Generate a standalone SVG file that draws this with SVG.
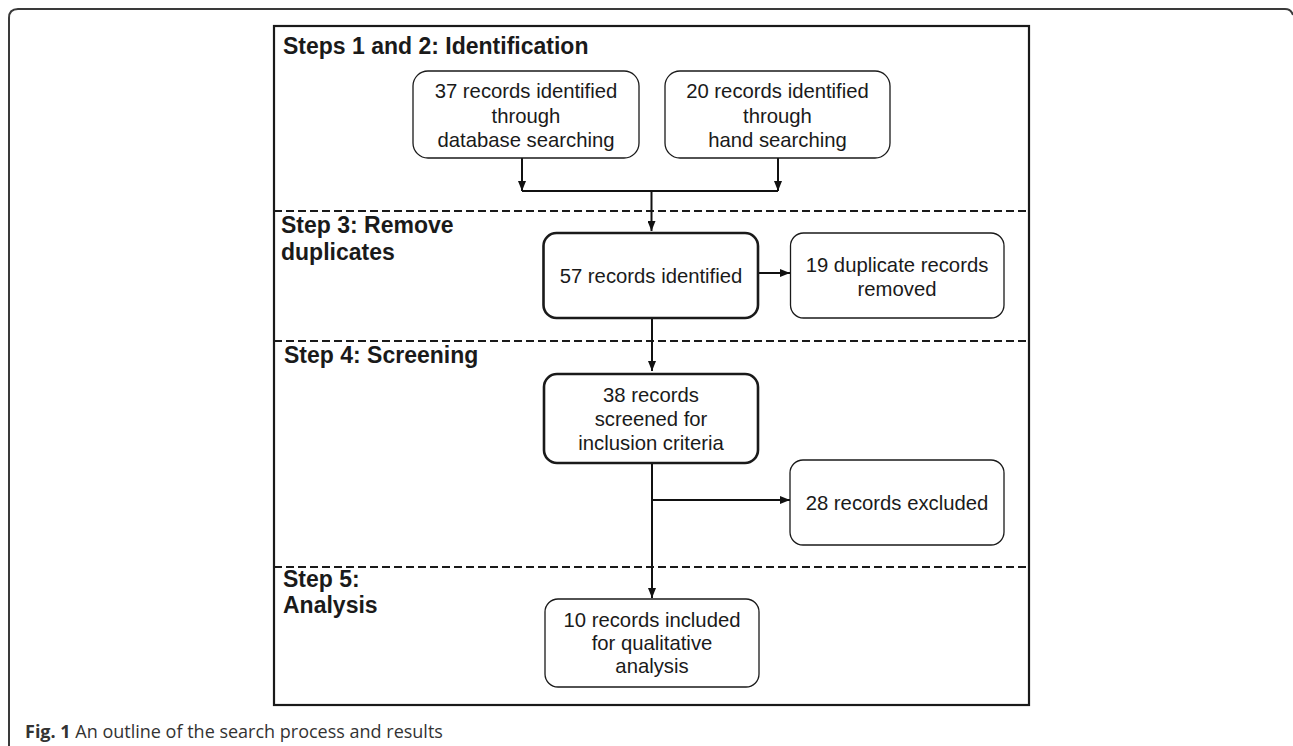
<svg xmlns="http://www.w3.org/2000/svg" width="1293" height="746" viewBox="0 0 1293 746">
<defs>
<marker id="ah" markerWidth="10" markerHeight="8" refX="10" refY="4" orient="auto" markerUnits="userSpaceOnUse"><path d="M0,0 L10,4 L0,8 z" fill="#111"/></marker>
</defs>
<style>
.frame{fill:none;stroke:#3a3a3a;stroke-width:2}
.panel{fill:none;stroke:#1a1a1a;stroke-width:2.2}
.sep{stroke:#1a1a1a;stroke-width:2;stroke-dasharray:8 4}
.box{fill:#fff;stroke:#1a1a1a;stroke-width:1.3}
.thick{stroke-width:2.6}
.conn{fill:none;stroke:#111;stroke-width:2}
.lbl{font-family:"Liberation Sans",Arial,Helvetica,sans-serif;font-size:20.3px;fill:#1a1a1a;text-anchor:middle}
.step{font-family:"Liberation Sans",Arial,Helvetica,sans-serif;font-size:23px;font-weight:bold;fill:#1a1a1a}
.cap{font-family:"Open Sans",sans-serif;font-size:18px;fill:#333}
</style>
<rect width="1293" height="746" fill="#fff"/>
<path class="frame" d="M9,746 V18 Q9,9 18,9 H1285 Q1291,9 1293,15"/>
<g id="panel">
<rect class="panel" x="274" y="26" width="755" height="679"/>
<line class="sep" x1="274" y1="211" x2="1029" y2="211"/>
<line class="sep" x1="274" y1="341" x2="1029" y2="341"/>
<line class="sep" x1="274" y1="567" x2="1029" y2="567"/>
<text class="step" x="283" y="54">Steps 1 and 2: Identification</text>
<text class="step" x="281" y="233">Step 3: Remove</text>
<text class="step" x="281" y="260">duplicates</text>
<text class="step" x="284" y="363">Step 4: Screening</text>
<text class="step" x="283" y="587">Step 5:</text>
<text class="step" x="283" y="613">Analysis</text>
</g>
<g id="connectors">
<path class="conn" d="M522,158 V191" marker-end="url(#ah)"/>
<path class="conn" d="M778,158 V191" marker-end="url(#ah)"/>
<path class="conn" d="M522,191 H778"/>
<path class="conn" d="M651.5,191 V231" marker-end="url(#ah)"/>
<path class="conn" d="M758,273 H790" marker-end="url(#ah)"/>
<path class="conn" d="M652,318 V371" marker-end="url(#ah)"/>
<path class="conn" d="M652,463 V598" marker-end="url(#ah)"/>
<path class="conn" d="M652,500 H790" marker-end="url(#ah)"/>
</g>
<g id="nodeA">
<rect class="box" x="413" y="71" width="226" height="87" rx="15"/>
<text class="lbl" x="526" y="98">37 records identified</text>
<text class="lbl" x="526" y="122.5">through</text>
<text class="lbl" x="526" y="147">database searching</text>
</g>
<g id="nodeB">
<rect class="box" x="665" y="71" width="225" height="87" rx="15"/>
<text class="lbl" x="777.5" y="98">20 records identified</text>
<text class="lbl" x="777.5" y="122.5">through</text>
<text class="lbl" x="777.5" y="147">hand searching</text>
</g>
<g id="nodeC">
<rect class="box thick" x="543.5" y="233" width="214.5" height="85" rx="13"/>
<text class="lbl" x="651" y="283">57 records identified</text>
</g>
<g id="nodeD">
<rect class="box" x="790.5" y="233" width="213.5" height="85" rx="13"/>
<text class="lbl" x="897" y="272">19 duplicate records</text>
<text class="lbl" x="897" y="296">removed</text>
</g>
<g id="nodeE">
<rect class="box thick" x="544" y="374" width="214" height="89" rx="13"/>
<text class="lbl" x="651" y="402">38 records</text>
<text class="lbl" x="651" y="426">screened for</text>
<text class="lbl" x="651" y="450">inclusion criteria</text>
</g>
<g id="nodeF">
<rect class="box" x="790" y="460" width="214" height="85" rx="13"/>
<text class="lbl" x="897" y="510">28 records excluded</text>
</g>
<g id="nodeG">
<rect class="box" x="545" y="599" width="214" height="88" rx="13"/>
<text class="lbl" x="652" y="627">10 records included</text>
<text class="lbl" x="652" y="650">for qualitative</text>
<text class="lbl" x="652" y="673">analysis</text>
</g>
<text class="cap" x="25" y="738"><tspan font-weight="bold">Fig. 1</tspan> An outline of the search process and results</text>
</svg>
